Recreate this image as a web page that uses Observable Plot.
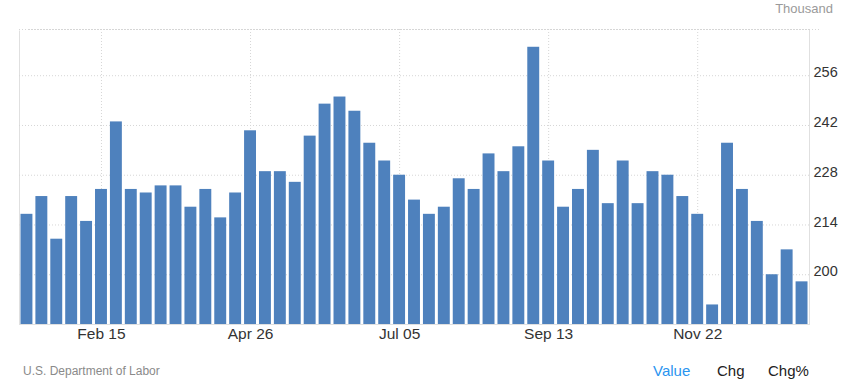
<!DOCTYPE html>
<html>
<head>
<meta charset="utf-8">
<script src="https://cdn.jsdelivr.net/npm/d3@7"></script>
<script src="https://cdn.jsdelivr.net/npm/@observablehq/plot@0.6"></script>
<style>
  html, body { margin: 0; padding: 0; background: #fff; }
  #wrap { position: relative; width: 843px; height: 388px; font-family: "Liberation Sans", Arial, sans-serif; }
  #wrap svg { position: absolute; left: 0; top: 0; }
  .t { position: absolute; white-space: nowrap; line-height: 1; }
</style>
</head>
<body>
<div id="wrap">
  <div class="t" style="right:10px; top:2px; font-size:13px; color:#9a9a9a;">Thousand</div>
  <div class="t" style="left:23px; top:365px; font-size:12px; color:#8a8a8a;">U.S. Department of Labor</div>
  <div class="t" style="left:653px; top:363px; font-size:15px; color:#2a95f0;">Value</div>
  <div class="t" style="left:717px; top:363px; font-size:15px; color:#222;">Chg</div>
  <div class="t" style="left:768px; top:363px; font-size:15px; color:#222;">Chg%</div>
</div>
<script>
const weeks = [
  "2025-01-11","2025-01-18","2025-01-25","2025-02-01","2025-02-08","2025-02-15","2025-02-22",
  "2025-03-01","2025-03-08","2025-03-15","2025-03-22","2025-03-29","2025-04-05","2025-04-12",
  "2025-04-19","2025-04-26","2025-05-03","2025-05-10","2025-05-17","2025-05-24","2025-05-31",
  "2025-06-07","2025-06-14","2025-06-21","2025-06-28","2025-07-05","2025-07-12","2025-07-19",
  "2025-07-26","2025-08-02","2025-08-09","2025-08-16","2025-08-23","2025-08-30","2025-09-06",
  "2025-09-13","2025-09-20","2025-09-27","2025-10-04","2025-10-11","2025-10-18","2025-10-25",
  "2025-11-01","2025-11-08","2025-11-15","2025-11-22","2025-11-29","2025-12-06","2025-12-13",
  "2025-12-20","2025-12-27","2026-01-03","2026-01-10"
];
const claims = [
  217, 222, 210, 222, 215, 224, 243,
  224, 223, 225, 225, 219, 224, 216,
  223, 240.5, 229, 229, 226, 239, 248,
  250, 246, 237, 232, 228, 221, 217,
  219, 227, 224, 234, 229, 236, 264,
  232, 219, 224, 235, 220, 232, 220,
  229, 228, 222, 217, 191.5, 237, 224,
  215, 200, 207, 198
];
const tickWeeks = ["2025-02-15","2025-04-26","2025-07-05","2025-09-13","2025-11-22"];
const tickLabels = ["Feb 15","Apr 26","Jul 05","Sep 13","Nov 22"];
const yTicks = [200, 214, 228, 242, 256];
const yMin = 186, yMax = 269;

const labelOf = new Map(tickWeeks.map((w, i) => [w, tickLabels[i]]));
const grid = "#d6d6d6";
const frameCol = "#e0e0e0";

const chart = Plot.plot({
  width: 843,
  height: 388,
  marginTop: 29,
  marginBottom: 64,
  marginLeft: 19,
  marginRight: 34,
  style: { fontFamily: "'Liberation Sans', Arial, sans-serif", background: "transparent", color: "#333" },
  x: { type: "band", domain: weeks, paddingInner: 0.2, paddingOuter: 0.1, axis: null },
  y: { domain: [yMin, yMax], axis: null },
  marks: [
    Plot.frame({ stroke: frameCol }),
    Plot.ruleY([yMax], { stroke: "white", strokeWidth: 2 }),
    Plot.ruleY([yMax], { stroke: grid, strokeDasharray: "1,2" }),
    Plot.ruleY([yMax], { stroke: grid, strokeDasharray: "1,2", dx: 10 }),
    Plot.gridY(yTicks, { stroke: grid, strokeOpacity: 1, strokeDasharray: "1,2" }),
    Plot.gridX(tickWeeks, { stroke: grid, strokeOpacity: 1, strokeDasharray: "1,2" }),
    Plot.barY(claims, { x: weeks, y1: yMin, y2: claims, fill: "#4e81bd" }),
    Plot.ruleY([yMin], { stroke: frameCol }),
    Plot.axisX(tickWeeks, { tickSize: 0, tickPadding: 3, tickFormat: d => labelOf.get(d), fontSize: 15.5, fill: "#333", label: null }),
    Plot.axisY(yTicks, { anchor: "right", tickSize: 0, tickPadding: 4, textAnchor: "start", dy: -3, fontSize: 14.5, fill: "#333", label: null })
  ]
});
document.getElementById("wrap").prepend(chart);
</script>
</body>
</html>
